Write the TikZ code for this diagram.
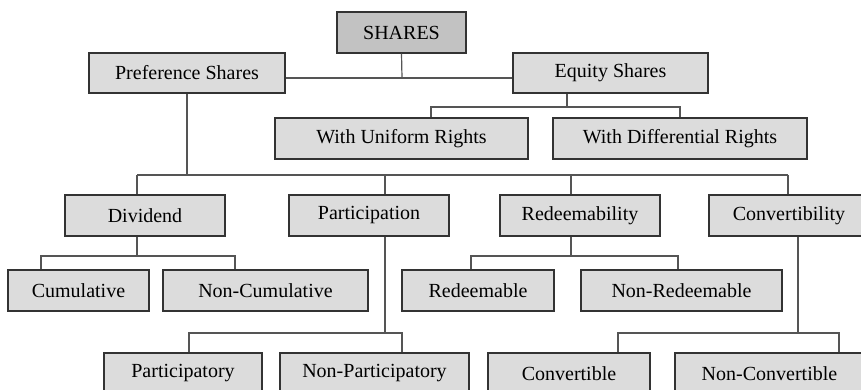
\documentclass[tikz,border=0pt]{standalone}
\usepackage{fontspec}
\setmainfont{Liberation Serif}
\definecolor{boxfill}{HTML}{DCDCDC}
\definecolor{rootfill}{HTML}{C2C2C2}
\definecolor{boxline}{HTML}{333333}
\definecolor{wire}{HTML}{555555}
\begin{document}
\begin{tikzpicture}[x=1pt,y=-1pt,
  box/.style={draw=boxline, line width=1.4pt, fill=boxfill, inner sep=0pt,
    minimum height=41pt, font=\fontsize{20}{24}\selectfont},
  rootbox/.style={box, fill=rootfill},
  link/.style={draw=wire, line width=1.2pt}]
\useasboundingbox (0,0) rectangle (861,389);
\clip (0,0) rectangle (861,389);

% level 0 and 1
\node[rootbox, minimum width=129pt] (shares) at (401.5,32.5) {SHARES};
\node[box, minimum width=196pt, minimum height=40pt] (pref) at (187,73) {Preference Shares};
\node[box, minimum width=195pt, minimum height=40pt] (equity) at (610.5,73) {Equity Shares};

% equity share classes
\node[box, minimum width=253pt] (uniform) at (401.5,138.5) {With Uniform Rights};
\node[box, minimum width=254pt] (diff) at (680,138.5) {With Differential Rights};

% preference share criteria
\node[box, minimum width=160pt] (div) at (145,215.5) {Dividend};
\node[box, minimum width=160pt] (part) at (369,215.5) {Participation};
\node[box, minimum width=160pt] (red) at (580,215.5) {Redeemability};
\node[box, minimum width=160pt] (conv) at (789,215.5) {Convertibility};

% third row
\node[box, minimum width=141pt] (cum) at (78.5,290.5) {Cumulative};
\node[box, minimum width=205pt] (noncum) at (265.5,290.5) {Non-Cumulative};
\node[box, minimum width=152pt] (redm) at (478,290.5) {Redeemable};
\node[box, minimum width=201pt] (nonredm) at (681.5,290.5) {Non-Redeemable};

% bottom row (runs past the lower edge)
\node[box, minimum width=158pt] (partic) at (183,373.5) {Participatory};
\node[box, minimum width=189pt] (nonpartic) at (374.5,373.5) {Non-Participatory};
\node[box, minimum width=162pt] (convt) at (569,373.5) {Convertible};
\node[box, minimum width=189pt] (nonconvt) at (769.5,373.5) {Non-Convertible};

% bus points
\coordinate (t0) at (402,78);
\coordinate (e0) at (567,107);
\coordinate (e1) at (431,107);
\coordinate (e2) at (680,107);
\coordinate (p0) at (187,175);
\coordinate (p1) at (137,175);
\coordinate (p2) at (385,175);
\coordinate (p3) at (571,175);
\coordinate (p4) at (788,175);
\coordinate (d0) at (137,256);
\coordinate (d1) at (41,256);
\coordinate (d2) at (235,256);
\coordinate (r0) at (571,256);
\coordinate (r1) at (471,256);
\coordinate (r2) at (678,256);
\coordinate (q0) at (385,333);
\coordinate (q1) at (189,333);
\coordinate (q2) at (402,333);
\coordinate (c0) at (798,333);
\coordinate (c1) at (618,333);
\coordinate (c2) at (839,333);

% connectors
\draw[link] (shares.south) -- (t0);
\draw[link] (pref.east |- t0) -- (equity.west |- t0);

\draw[link] (equity.south -| e0) -- (e0);
\draw[link] (e1 |- uniform.north) -- (e1) -- (e2) -- (e2 |- diff.north);

\draw[link] (pref.south) -- (p0);
\draw[link] (p1) -- (p4);
\draw[link] (p1) -- (p1 |- div.north);
\draw[link] (p2) -- (p2 |- part.north);
\draw[link] (p3) -- (p3 |- red.north);
\draw[link] (p4) -- (p4 |- conv.north);

\draw[link] (div.south -| d0) -- (d0);
\draw[link] (d1 |- cum.north) -- (d1) -- (d2) -- (d2 |- noncum.north);

\draw[link] (red.south -| r0) -- (r0);
\draw[link] (r1 |- redm.north) -- (r1) -- (r2) -- (r2 |- nonredm.north);

\draw[link] (part.south -| q0) -- (q0);
\draw[link] (q1 |- partic.north) -- (q1) -- (q2) -- (q2 |- nonpartic.north);

\draw[link] (conv.south -| c0) -- (c0);
\draw[link] (c1 |- convt.north) -- (c1) -- (c2) -- (c2 |- nonconvt.north);
\end{tikzpicture}
\end{document}
